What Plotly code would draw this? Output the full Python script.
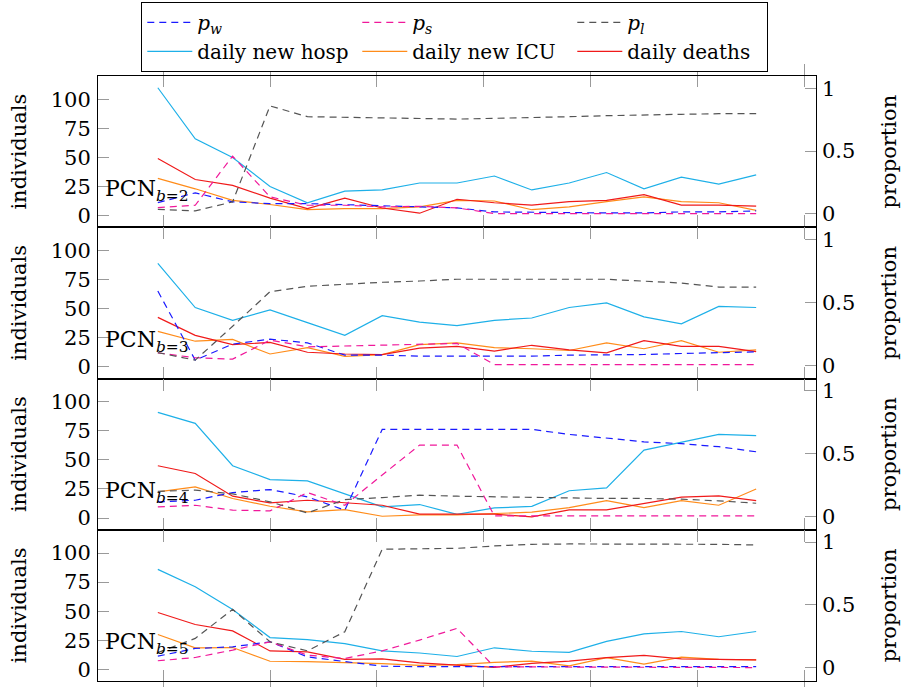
import plotly.graph_objects as go

# ---------------- data ----------------
days = [0, 7, 14, 21, 28, 35, 42, 49, 56, 63, 70, 77, 84, 91, 98, 105, 112]
x_tick_vals = [1, 21, 41, 61, 81, 101, 121]
ind_ticks = [0, 25, 50, 75, 100]
prop_ticks = [0, 0.5, 1]
prop_tick_text = ["0", "0.5", "1"]
panel_labels = ["2", "3", "4", "5"]

# PCN b=2
hosp_b2 = [110, 66, 50, 25, 11, 21, 22, 28, 28, 34, 22, 28, 37, 23, 33, 27, 35]
icu_b2 = [32, 23, 13, 9.5, 5, 6, 6, 7.5, 13, 12.5, 5, 7.5, 12, 16, 12, 11, 4.5]
deaths_b2 = [49, 31, 26, 15, 6, 15, 6.5, 2, 14, 11, 9, 12, 13, 18, 9, 9, 8]
pw_b2 = [0.09, 0.168, 0.096, 0.082, 0.082, 0.074, 0.064, 0.061, 0.048, 0.016, 0.016, 0.011, 0.008, 0.008, 0.016, 0.016, 0.024]
ps_b2 = [0.05, 0.069, 0.46, 0.136, 0.069, 0.069, 0.056, 0.061, 0.048, 0.003, 0.003, 0.003, 0.003, 0.003, 0.003, 0.003, 0.003]
pl_b2 = [0.037, 0.024, 0.096, 0.86, 0.774, 0.769, 0.761, 0.755, 0.755, 0.761, 0.766, 0.774, 0.782, 0.79, 0.793, 0.798, 0.798]

# PCN b=3
hosp_b3 = [89, 51, 40, 49, 38, 27, 44, 38.5, 35.5, 40, 42, 51, 55, 43, 37, 52, 51]
icu_b3 = [30.5, 22, 23.5, 11, 16.5, 9, 10.5, 19, 20.5, 16.5, 15.5, 14, 20.5, 15.5, 22.5, 12.5, 14.5]
deaths_b3 = [42.5, 27, 19, 21, 12.5, 11, 10.5, 16, 17.5, 13.5, 18.5, 14.5, 12, 22.5, 17.5, 17.5, 13]
pw_b3 = [0.59, 0.04, 0.168, 0.207, 0.178, 0.08, 0.08, 0.072, 0.072, 0.072, 0.072, 0.08, 0.08, 0.085, 0.093, 0.101, 0.106]
ps_b3 = [0.098, 0.059, 0.048, 0.2, 0.146, 0.154, 0.16, 0.168, 0.173, 0.005, 0.005, 0.005, 0.005, 0.005, 0.005, 0.005, 0.005]
pl_b3 = [0.1, 0.04, 0.31, 0.585, 0.628, 0.644, 0.66, 0.67, 0.684, 0.684, 0.686, 0.684, 0.684, 0.67, 0.654, 0.622, 0.622]

# PCN b=4
hosp_b4 = [91, 81.5, 45, 33, 32, 21, 9.6, 11.6, 3.2, 8.7, 10, 23.5, 26, 58.5, 65, 72, 71]
icu_b4 = [22.5, 26.8, 16.8, 10.1, 5.3, 7.3, 1.5, 2.7, 2.7, 3.8, 5, 9, 15, 9, 15, 11, 25]
deaths_b4 = [45, 38.3, 18.8, 13, 15.3, 13, 11, 3.3, 3.3, 3.3, 1, 7, 7, 12.5, 18, 19, 15]
pw_b4 = [0.116, 0.129, 0.19, 0.214, 0.156, 0.05, 0.693, 0.693, 0.693, 0.693, 0.693, 0.653, 0.621, 0.594, 0.579, 0.555, 0.515]
ps_b4 = [0.076, 0.089, 0.05, 0.044, 0.19, 0.089, 0.33, 0.568, 0.568, 0.004, 0.004, 0.004, 0.004, 0.004, 0.004, 0.004, 0.004]
pl_b4 = [0.2, 0.209, 0.18, 0.116, 0.028, 0.134, 0.15, 0.169, 0.161, 0.156, 0.156, 0.148, 0.143, 0.143, 0.137, 0.124, 0.105]

# PCN b=5
hosp_b5 = [86, 71, 51.4, 27.3, 25.6, 22.1, 15.8, 14, 11, 18.5, 15.5, 14.5, 24, 30.5, 32.5, 28, 32.5]
icu_b5 = [29.9, 18.4, 18.7, 6.9, 6.6, 6, 4.9, 3.4, 4, 6, 7, 3, 10, 4.5, 10.5, 8.5, 8]
deaths_b5 = [48.9, 38.5, 33, 15.8, 14.9, 8.6, 8.9, 5.5, 3.5, 1.7, 5, 7, 10, 12, 9, 8.5, 8]
pw_b5 = [0.092, 0.153, 0.166, 0.206, 0.086, 0.047, 0.012, 0.008, 0.008, 0.008, 0.008, 0.008, 0.008, 0.008, 0.008, 0.008, 0.008]
ps_b5 = [0.055, 0.081, 0.14, 0.206, 0.1, 0.073, 0.134, 0.22, 0.313, 0.006, 0.006, 0.006, 0.006, 0.006, 0.006, 0.006, 0.001]
pl_b5 = [0.12, 0.233, 0.464, 0.206, 0.134, 0.286, 0.943, 0.945, 0.95, 0.969, 0.982, 0.985, 0.985, 0.988, 0.988, 0.982, 0.977]

panels = [
    (hosp_b2, icu_b2, deaths_b2, pw_b2, ps_b2, pl_b2),
    (hosp_b3, icu_b3, deaths_b3, pw_b3, ps_b3, pl_b3),
    (hosp_b4, icu_b4, deaths_b4, pw_b4, ps_b4, pl_b4),
    (hosp_b5, icu_b5, deaths_b5, pw_b5, ps_b5, pl_b5),
]

# ---------------- style ----------------
FONT = "DejaVu Serif"
TXT = dict(family=FONT, size=21, color="black")
C_PW, C_PS, C_PL = "#1a1aff", "#f0189a", "#555555"
C_HOSP, C_ICU, C_DEATH = "#1eb0e8", "#ff8c1a", "#f01a1a"
DASH = "7px,5px"
LW = 1.2

names_prop = ["<i>p</i><sub><i>w</i></sub>", "<i>p</i><sub><i>s</i></sub>", "<i>p</i><sub><i>l</i></sub>"]
names_ind = ["daily new hosp", "daily new ICU", "daily deaths"]
legend_widths = [155, 155, 135]

fig = go.Figure()
layout = dict(
    width=901, height=687,
    margin=dict(l=98, r=85, t=76, b=6, autoexpand=False),
    paper_bgcolor="white", plot_bgcolor="white",
    font=TXT,
    legend=dict(orientation="h", x=0.0603, y=1.1225, xanchor="left", yanchor="top",
                bordercolor="black", borderwidth=1, bgcolor="white",
                font=dict(family=FONT, size=20, color="black"), itemwidth=45,
                traceorder="normal", tracegroupgap=0),
)
annotations = []

for i, (hosp, icu, deaths, pw, ps, pl) in enumerate(panels):
    xs = "x" if i == 0 else f"x{i+1}"
    yl = 2 * i + 1
    yr = 2 * i + 2
    yls = "y" if yl == 1 else f"y{yl}"
    yrs = f"y{yr}"
    show = i == 0
    for vals, col, nm, lw in zip((pw, ps, pl), (C_PW, C_PS, C_PL), names_prop, legend_widths):
        fig.add_trace(go.Scatter(x=days, y=vals, mode="lines", name=nm, showlegend=show,
                                 line=dict(color=col, width=LW, dash=DASH), legendwidth=lw,
                                 xaxis=xs, yaxis=yrs, legendgroup=nm))
    for vals, col, nm, lw in zip((hosp, icu, deaths), (C_HOSP, C_ICU, C_DEATH), names_ind, legend_widths):
        fig.add_trace(go.Scatter(x=days, y=vals, mode="lines", name=nm, showlegend=show,
                                 line=dict(color=col, width=LW), legendwidth=lw,
                                 xaxis=xs, yaxis=yls, legendgroup=nm))

    top = 1 - i / 4
    bot = 1 - (i + 1) / 4
    xkey = "xaxis" if i == 0 else f"xaxis{i+1}"
    layout[xkey] = dict(domain=[0, 1], anchor=yls, range=[-11.2, 123.2],
                        tickvals=x_tick_vals, ticks="inside", ticklen=11, tickcolor="#9a9a9a",
                        tickwidth=1, showticklabels=False, showline=True, mirror="allticks",
                        linecolor="black", linewidth=1, showgrid=False, zeroline=False)
    ylkey = "yaxis" if yl == 1 else f"yaxis{yl}"
    layout[ylkey] = dict(domain=[bot, top], anchor=xs, range=[-10.1, 120.1],
                         tickvals=ind_ticks, ticks="inside", ticklen=11, tickcolor="#9a9a9a",
                         tickwidth=1, showline=True, mirror=True, linecolor="black", linewidth=1,
                         showgrid=False, zeroline=False, tickfont=TXT, ticklabelstandoff=2,
                         title=dict(text="individuals", font=TXT, standoff=18))
    layout[f"yaxis{yr}"] = dict(overlaying=yls, side="right", anchor=xs, range=[-0.106, 1.098],
                                tickvals=prop_ticks, ticktext=prop_tick_text, ticks="inside",
                                ticklen=11, tickcolor="#9a9a9a", tickwidth=1, showline=False,
                                showgrid=False, zeroline=False, tickfont=TXT, ticklabelstandoff=5,
                                title=dict(text="proportion", font=TXT, standoff=28))
    annotations.append(dict(text=f"PCN<sub><i>b</i>={panel_labels[i]}</sub>",
                            xref=f"{xs} domain", yref=f"{yls} domain", x=0.007, y=0.245,
                            xanchor="left", yanchor="middle", showarrow=False,
                            font=dict(family=FONT, size=22, color="black")))

layout["annotations"] = annotations
fig.update_layout(**layout)

fig.write_html("out.html")
